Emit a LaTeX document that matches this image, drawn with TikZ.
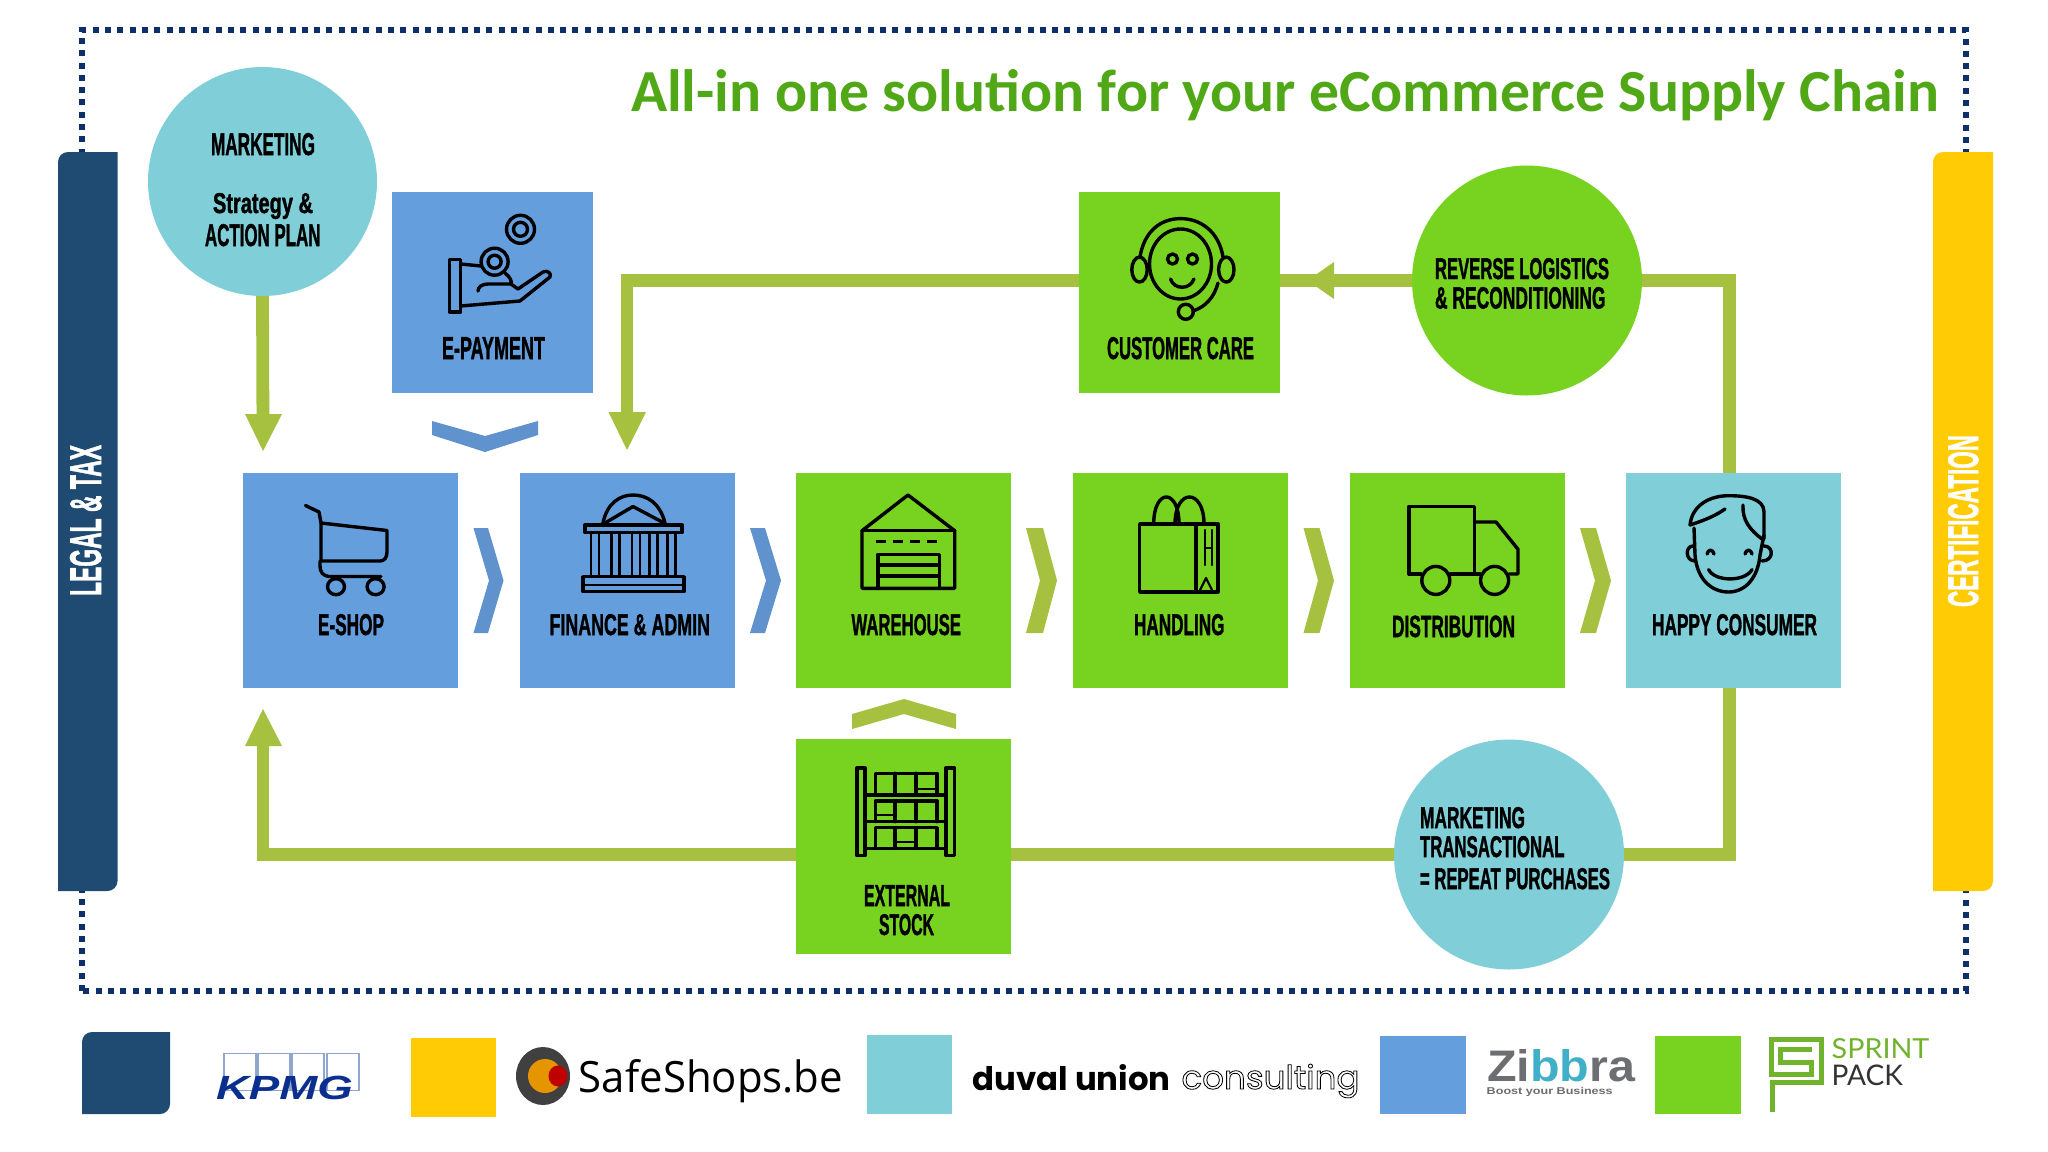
\documentclass[tikz,border=0pt]{standalone}
\usepackage{fontspec}
\usepackage{graphicx}
\setmainfont{Liberation Sans}
\newfontfamily\heavyf[FakeBold=1.6]{Liberation Sans Bold}
\newfontfamily\titlef{Carlito}
\newfontfamily\safef{Open Sans}
\newfontfamily\popf{Poppins}
\newfontfamily\latof{Lato}
\usetikzlibrary{arrows.meta}
\definecolor{tealc}{HTML}{80CED7}
\definecolor{bluec}{HTML}{649EDC}
\definecolor{greenc}{HTML}{78D320}
\definecolor{olivec}{HTML}{A6C03F}
\definecolor{navyc}{HTML}{1F4A72}
\definecolor{yellowc}{HTML}{FFCB05}
\definecolor{chevblue}{HTML}{6092CE}
\definecolor{dotc}{HTML}{0F2F6B}
\definecolor{titlec}{HTML}{50A817}
\definecolor{zgray}{HTML}{6D6E71}
\definecolor{zteal}{HTML}{3FB0C8}
\definecolor{sprintg}{HTML}{72B32E}
\definecolor{kblue}{HTML}{0A2F8F}
\definecolor{kline}{HTML}{8FA6CF}
\pgfdeclarelayer{back}
\pgfsetlayers{back,main}
\tikzset{
  sq/.style={rectangle,draw=none,inner sep=0pt,outer sep=0pt},
  disc/.style={circle,draw=none,inner sep=0pt,outer sep=0pt},
  txt/.style={inner sep=0pt,outer sep=0pt,anchor=base,text=black},
  conn/.style={draw=olivec,line width=6.4pt,line join=miter},
  icon/.style={draw=black,line width=1.7pt,line join=round,line cap=round},
  iconthin/.style={draw=black,line width=1.1pt,line join=round,line cap=round},
}
% name,x1,y1,x2,y2,colour
\newcommand\bx[6]{\node[sq,fill=#6,minimum width={(#4-#2)*0.5pt},minimum height={(#5-#3)*0.5pt}] (#1) at ({(#2+#4)/2},{(#3+#5)/2}) {};}
% name,cx,cy,r,colour
\newcommand\dsc[5]{\node[disc,fill=#5,minimum size={2*#4*0.5pt}] (#1) at (#2,#3) {};}
% name,x1,x2,baseline,height,text
\newcommand\lab[6]{\pgfmathsetlengthmacro\labw{(#3-#2)*0.5pt}\pgfmathsetlengthmacro\labh{#5*0.5pt}%
  \node[txt] (#1) at ({(#2+#3)/2},#4) {\resizebox{\labw}{\labh}{\heavyf #6}};}
% right-pointing chevron
\newcommand\chevr[5]{\fill[#5] (#1,528) -- (#2,528) -- (#3,580.5) -- (#2,633) -- (#1,633) -- (#4,580.5) -- cycle;}
% bar rounded top-left and bottom-right
\newcommand\rbar[5]{\fill[#5] (#1,#4) [rounded corners=5pt] -- (#1,#2) [sharp corners] -- (#3,#2) [rounded corners=5pt] -- (#3,#4) [sharp corners] -- cycle;}
\begin{document}
\begin{tikzpicture}[x=0.5pt,y=-0.5pt]
\useasboundingbox (0,0) rectangle (2048,1151);
% ---------- nodes
\dsc{mkt}{262.5}{181.5}{114.5}{tealc}
\bx{pay}{392}{192}{593}{393}{bluec}
\bx{care}{1079}{192}{1279.5}{393}{greenc}
\dsc{rev}{1527}{280.5}{115}{greenc}
\bx{shop}{243}{473}{458}{688}{bluec}
\bx{fin}{520}{473}{735}{688}{bluec}
\bx{ware}{796}{473}{1011}{688}{greenc}
\bx{hand}{1073}{473}{1287.5}{688}{greenc}
\bx{dist}{1349.5}{473}{1564.5}{688}{greenc}
\bx{happy}{1626}{473}{1841}{688}{tealc}
\bx{stock}{796}{739}{1011}{953.5}{greenc}
\dsc{rep}{1509}{854.5}{115}{tealc}
\coordinate (mktTip) at (263,451);
\coordinate (finTip) at (627,450);
\coordinate (shopTip) at (263,709);
\coordinate (careTip) at (1307.5,280.5);
\coordinate (topR) at (1729.5,280.5);
\coordinate (topL) at (627,280.5);
\coordinate (botR) at (1729.5,854.5);
\coordinate (botL) at (263,854.5);
% ---------- back layer
\begin{pgfonlayer}{back}
\fill[white] (0,0) rectangle (2048,1151);
\draw[dotc,line width=3pt,dash pattern=on 3pt off 3.15pt] (82,991) -- (82,30) -- (1966,30) -- (1966,991) -- cycle;
\draw[conn] (mkt.south) -- ([yshift=9pt]mktTip);
\draw[conn] (happy.north -| topR) -- (topR) -- (rev.east);
\draw[conn] (rev.west) -- (careTip);
\draw[conn] (careTip) -- (care.east |- careTip);
\draw[conn] (care.west |- topL) -- (topL) -- ([yshift=9pt]finTip);
\draw[conn] (happy.south -| botR) -- (botR) -- (rep.east);
\draw[conn] (rep.west) -- (stock.east |- botR);
\draw[conn] (stock.west |- botL) -- (botL) -- ([yshift=-9pt]shopTip);
\end{pgfonlayer}
% arrow heads
\fill[olivec] (245,414) -- (282,414) -- (mktTip) -- cycle;
\fill[olivec] (608.5,412) -- (646,412) -- (finTip) -- cycle;
\fill[olivec] (245,746) -- (282,746) -- (shopTip) -- cycle;
\fill[olivec] (1334,262) -- (1334,299) -- (careTip) -- cycle;
% ---------- bars
\rbar{58}{152}{117.5}{891}{navyc}
\rbar{1933}{152}{1993}{891}{yellowc}
\node[txt,text=white,rotate=90] (legalT) at (101,520.5) {\resizebox{75.5pt}{15.5pt}{\heavyf LEGAL \& TAX}};
\node[txt,text=white,rotate=90] (certT) at (1978,521) {\resizebox{86pt}{15pt}{\heavyf CERTIFICATION}};
% ---------- chevrons
\fill[chevblue] (432,421) -- (485,436) -- (538,421) -- (538,435) -- (485,452) -- (432,435) -- cycle;
\chevr{473.5}{488}{503.5}{489}{chevblue}
\chevr{750}{765}{781}{766}{chevblue}
\chevr{1026}{1043}{1057}{1040}{olivec}
\chevr{1303.5}{1319.5}{1334}{1318}{olivec}
\chevr{1580}{1596}{1611}{1595}{olivec}
\fill[olivec] (852,714) -- (904,699) -- (956,714) -- (956,729) -- (904,714) -- (852,729) -- cycle;
% ---------- labels
\node[inner sep=0pt,outer sep=0pt,anchor=base west,text=titlec] (title) at (631,111) {\resizebox{654pt}{!}{\titlef\bfseries All-in one solution for your eCommerce Supply Chain}};
\lab{l1}{211}{315}{155}{22}{MARKETING}
\lab{l2}{213}{313}{213}{20}{Strategy \&}
\lab{l3}{205}{320.5}{246}{22}{ACTION PLAN}
\lab{l4}{442}{545}{359}{22}{E-PAYMENT}
\lab{l5}{1107}{1254}{359}{22}{CUSTOMER CARE}
\lab{l6}{1435}{1609}{279}{21}{REVERSE LOGISTICS}
\lab{l7}{1435}{1605.5}{308.5}{21.5}{\& RECONDITIONING}
\lab{l8}{318}{384}{635}{21}{E-SHOP}
\lab{l9}{549.5}{710}{635}{21}{FINANCE \& ADMIN}
\lab{l10}{851.5}{961}{635}{21}{WAREHOUSE}
\lab{l11}{1134}{1224.5}{635}{21}{HANDLING}
\lab{l12}{1392}{1515}{637}{21.5}{DISTRIBUTION}
\lab{l13}{1652}{1817}{635}{21}{HAPPY CONSUMER}
\lab{l14}{864}{950}{906}{21}{EXTERNAL}
\lab{l15}{879}{934}{935}{21}{STOCK}
\lab{l16}{1420}{1525}{828}{21}{MARKETING}
\lab{l17}{1420}{1564.5}{857}{21}{TRANSACTIONAL}
\lab{l18}{1420}{1610}{889}{21}{= REPEAT PURCHASES}
% ---------- icons
% hand with coins
\draw[icon] (520.5,229.3) ellipse [x radius=14,y radius=14];
\draw[icon] (520.5,229.3) ellipse [x radius=7,y radius=7];
\draw[icon] (494.6,261.7) ellipse [x radius=13.5,y radius=13.5];
\draw[icon] (494.6,261.7) ellipse [x radius=6.5,y radius=6.5];
\draw[icon] (449.5,259.5) rectangle (460.7,312);
\draw[icon] (460.7,264) -- (481,266);
\draw[icon] (505,273) .. controls (510,277) and (512,281) .. (511,284) -- (488,284) .. controls (482,284) and (478,287) .. (478,291);
\draw[icon] (511,284) -- (518,289) -- (543,272) .. controls (547,270) and (552,273) .. (550,277) -- (520,301) -- (460.7,306);
% cart
\draw[icon] (305.5,505.5) -- (319,512) -- (321,523) -- (321,560);
\draw[icon] (321,523) -- (387,530.5) -- (387,552) .. controls (387,558) and (384,561) .. (380,561) -- (321,561);
\draw[icon] (320,561) -- (320,566) .. controls (320,572) and (323,576) .. (329,576.5) -- (381,576.5);
\draw[icon] (336,586.7) ellipse [x radius=8.5,y radius=8];
\draw[icon] (375.6,586.7) ellipse [x radius=8.5,y radius=8];
% bank
\draw[icon] (603,523) .. controls (607,503) and (620,495) .. (633,495) .. controls (647,495) and (660,503) .. (665,523);
\draw[icon] (605,523) -- (633,506.5) -- (664,523);
\draw[icon] (585,525) rectangle (682,532.5);
\foreach \cx in {595,615.5,636,653.7,671.5}{\draw[iconthin,line width=1.4pt] ({\cx-4},532.5) -- ({\cx-4},576.5);\draw[iconthin,line width=1.4pt] ({\cx+4},532.5) -- ({\cx+4},576.5);}
\draw[icon] (583,576.7) rectangle (684,591.7);
\draw[iconthin] (583,585) -- (684,585);
% warehouse
\draw[icon] (862,588.3) -- (862,530.7) -- (908,495) -- (954.7,530.7) -- (954.7,588.3) -- cycle;
\draw[icon] (862,530.7) -- (954.7,530.7);
\draw[icon,dash pattern=on 5pt off 3.5pt,line cap=butt] (875.6,541.7) -- (942,541.7);
\draw[icon] (878,588.3) -- (878,554.3) -- (939.4,554.3) -- (939.4,588.3);
\draw[icon] (878,565) -- (939.4,565);
\draw[icon] (878,576) -- (939.4,576);
% stock
\draw[icon] (857,768) rectangle (865,855.7);
\draw[icon] (946,768) rectangle (954.5,855.7);
\foreach \sy/\ty in {795/773.3,821.7/801,848.3/827.7}{
  \draw[icon] (865,\sy) -- (946,\sy);
  \draw[icon] (875.4,\sy) -- (875.4,\ty) -- (937,\ty) -- (937,\sy);
  \draw[icon] (895,\sy) -- (895,\ty);
  \draw[icon] (916,\sy) -- (916,\ty);
}
\draw[iconthin] (918,789) -- (936,789);
\draw[iconthin] (877,815) -- (894,815);
\draw[iconthin] (897,842) -- (915,842);
% customer care
\draw[icon] (1180.5,264) ellipse [x radius=31,y radius=35];
\draw[icon] (1140,257) .. controls (1144,232) and (1160,218.6) .. (1180.5,218.6) .. controls (1201,218.6) and (1219,232) .. (1223,257);
\draw[icon] (1139.5,269.6) ellipse [x radius=7.7,y radius=12.5];
\draw[icon] (1226.3,269.6) ellipse [x radius=7.7,y radius=12.5];
\draw[icon] (1218,283) .. controls (1214,298) and (1205,307) .. (1193,311);
\draw[icon] (1185.8,311.8) ellipse [x radius=7.5,y radius=7.5];
\draw[icon] (1172.5,259) ellipse [x radius=5,y radius=5];
\draw[icon] (1192.5,259) ellipse [x radius=5,y radius=5];
\draw[icon] (1170.5,279) .. controls (1174,290) and (1190,290) .. (1194,279);
% bag
\draw[icon] (1139.7,524) rectangle (1218,591.8);
\draw[icon] (1196,524) -- (1196,591.8);
\draw[iconthin] (1205,530) -- (1205,565);
\draw[iconthin] (1212,530) -- (1212,565);
\draw[iconthin] (1205,548) -- (1212,548);
\draw[iconthin] (1200,590) -- (1206,578) -- (1212,590);
\draw[icon] (1153.7,524) .. controls (1153.7,488) and (1179,488) .. (1179,524);
\draw[icon] (1175,524) .. controls (1175,488) and (1204,488) .. (1204,524);
% truck
\draw[icon] (1421,574) -- (1409,574) -- (1409,506.4) -- (1474.6,506.4) -- (1474.6,574);
\draw[icon] (1450,574) -- (1480,574);
\draw[icon] (1474.6,522) -- (1496,522) -- (1518,549.3) -- (1518,574) -- (1509,574);
\draw[icon] (1435.8,580.4) ellipse [x radius=14,y radius=14];
\draw[icon] (1494.6,580.4) ellipse [x radius=14,y radius=14];
% happy face
\draw[icon] (1694,528) -- (1695,555) .. controls (1697,580) and (1712,592) .. (1728.6,592) .. controls (1745,592) and (1758,578) .. (1760,555) -- (1764,535);
\draw[icon] (1690,525) .. controls (1692,505) and (1710,495.7) .. (1728.6,495.7) .. controls (1745,495.7) and (1764,498) .. (1764,512) -- (1764,539);
\draw[icon] (1690,525) .. controls (1705,520) and (1715,516) .. (1725,509);
\draw[icon] (1743,505) .. controls (1742,520) and (1750,530) .. (1762,539);
\draw[icon] (1693,546) .. controls (1685,546) and (1685,561) .. (1695,561);
\draw[icon] (1764,546) .. controls (1774,546) and (1774,561) .. (1762,561);
\draw[icon] (1707,554) .. controls (1708,549) and (1713,549) .. (1714,554);
\draw[icon] (1745,554) .. controls (1746,549) and (1751,549) .. (1752,554);
\draw[icon] (1708.6,569.6) .. controls (1715,582) and (1745,582) .. (1752,569.6);
% ---------- legend
\rbar{82}{1032}{170}{1114}{navyc}
\bx{lgY}{411}{1038}{495.5}{1117}{yellowc}
\bx{lgT}{867}{1035}{951.5}{1114}{tealc}
\bx{lgB}{1380}{1036}{1466}{1114}{bluec}
\bx{lgG}{1655}{1036}{1741}{1114}{greenc}
% kpmg
\foreach \xa/\xb in {224/255.7,257.7/290,292.3/324,326.7/358.7}{\draw[kline,line width=0.9pt] (\xa,1053.5) rectangle (\xb,1090.5);}
\node[txt,text=kblue] (kpmg) at (284.5,1099.3) {\resizebox{68.5pt}{11.7pt}{\bfseries\itshape KPMG}};
% safeshops
\fill[black!75] (543,1076) ellipse [x radius=27,y radius=29];
\fill[orange!70!yellow!90!black] (545,1076) ellipse [x radius=17,y radius=17];
\fill[red!75!black] (558,1076) ellipse [x radius=9.5,y radius=10.5];
\node[txt] (safe) at (711,1092) {\resizebox{132pt}{16.5pt}{\safef SafeShops.be}};
% duval
\node[txt] (duval) at (1071.7,1090) {\resizebox{99pt}{13pt}{\popf\bfseries duval union}};
\node[txt] (consult) at (1270.5,1089) {\resizebox{89pt}{12.5pt}{\popf\special{pdf:code 1 Tr 0.25 w}consulting\special{pdf:code 0 Tr 1 w}}};
% zibbra
\node[txt] (zib) at (1561,1081.7) {\resizebox{74pt}{16pt}{\bfseries\textcolor{zgray}{Zi}\textcolor{zteal}{bb}\textcolor{zgray}{ra}}};
\node[txt,text=zgray] (zibs) at (1549.7,1094) {\resizebox{63pt}{3.6pt}{\bfseries Boost your Business}};
% sprint
\draw[sprintg,line width=2.5pt,line join=miter] (1811.7,1049) -- (1780,1049) -- (1780,1062.3) -- (1811.7,1062.3) -- (1811.7,1074.3) -- (1771.7,1074.3) -- (1771.7,1039) -- (1821.7,1039) -- (1821.7,1082.3) -- (1772.7,1082.3) -- (1772.7,1111.7);
\node[txt,text=sprintg] (spr) at (1880.5,1058.3) {\resizebox{48.8pt}{10pt}{\latof SPRINT}};
\node[txt,text=black!80] (pack) at (1867.3,1085) {\resizebox{35.7pt}{10.3pt}{\latof PACK}};
\end{tikzpicture}
\end{document}
